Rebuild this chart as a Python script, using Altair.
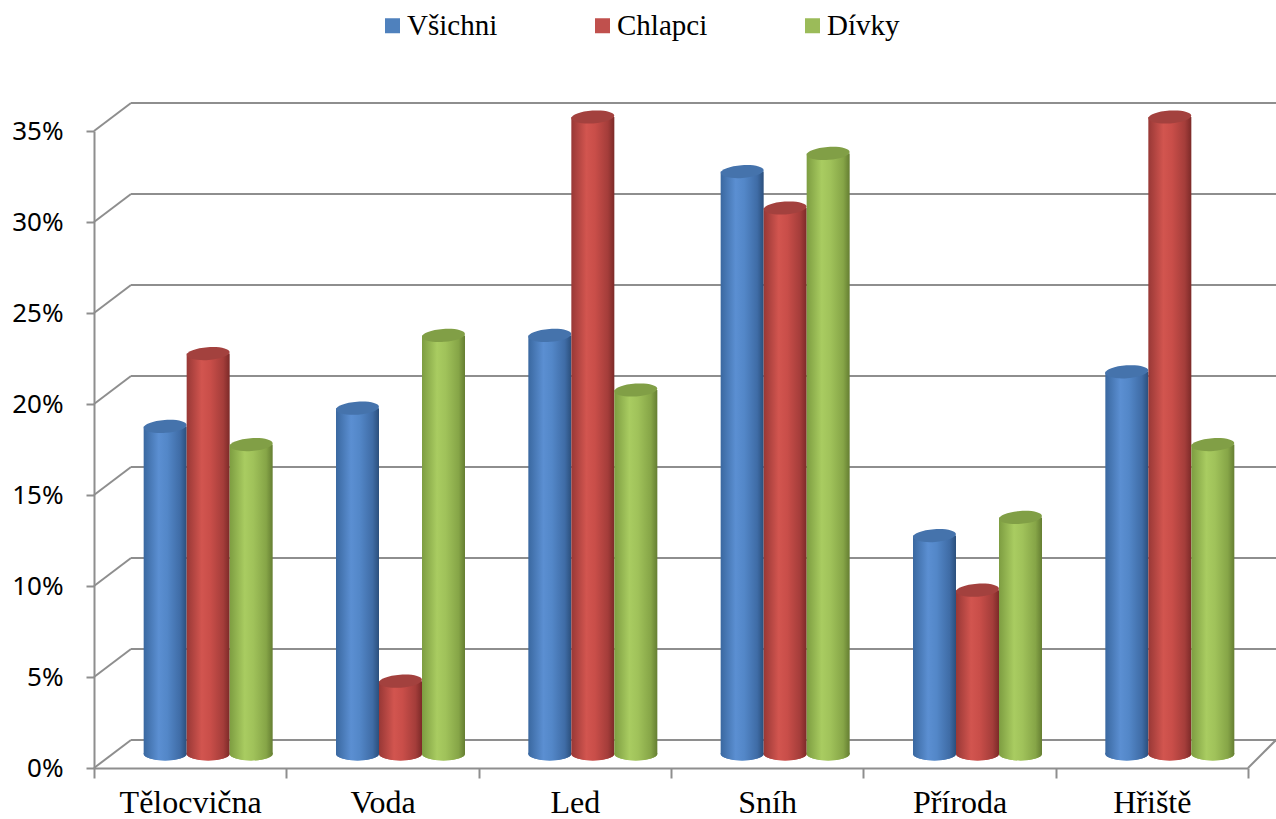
import altair as alt
import pandas as pd

categories = ["Tělocvična", "Voda", "Led", "Sníh", "Příroda", "Hřiště"]
series = ["Všichni", "Chlapci", "Dívky"]
vsichni = [0.18, 0.19, 0.23, 0.32, 0.12, 0.21]
chlapci = [0.22, 0.04, 0.35, 0.30, 0.09, 0.35]
divky = [0.17, 0.23, 0.20, 0.33, 0.13, 0.17]
y_ticks = [0, 0.05, 0.10, 0.15, 0.20, 0.25, 0.30, 0.35]

legend_colors = ["#4f81bd", "#c0504d", "#9bbb59"]
top_colors = ["#4573ac", "#a3413e", "#819f46"]
grad_stops = [
    ["#3a68a0", "#5b8fd2", "#5387c8", "#3f6ca6", "#2b4f7c"],
    ["#983836", "#d2554f", "#c94e49", "#a43d3a", "#7c2a28"],
    ["#7d9d41", "#a9cc61", "#a0c25a", "#86a547", "#657e32"],
]
stop_offsets = [0, 0.35, 0.55, 0.85, 1]

W, H = 1154, 637
DX, DY = 37, -28      # depth of the back wall
BDX, BDY = 18, -14    # bars sit at mid depth
BW = 43
GRAY = "#8e8e8e"
ELLIPSE = "M -1 0 A 1 0.3 0 1 1 1 0 A 1 0.3 0 1 1 -1 0 Z"

yscale = alt.Scale(domain=[0, 0.35], nice=False, zero=True)
xscale = alt.Scale(domain=categories, paddingInner=0, paddingOuter=0)

yaxis = alt.Axis(values=y_ticks, format=".0%", title=None, grid=False,
                 labelFont="Noto Sans", labelFontSize=26, labelColor="black",
                 domainColor=GRAY, domainWidth=2, tickColor=GRAY, tickWidth=2,
                 tickSize=8, labelPadding=23)
xaxis = alt.Axis(title=None, grid=False, labelAngle=0,
                 labelFont="Liberation Serif", labelFontSize=32, labelColor="black",
                 domainColor=GRAY, domainWidth=2, tickColor=GRAY, tickWidth=2,
                 tickSize=10, tickBand="extent", labelPadding=9)

X = alt.X("category:N", scale=xscale, axis=xaxis, sort=categories)
legend = alt.Legend(title=None, orient="none", legendX=284, legendY=-120,
                    direction="horizontal", labelFont="Liberation Serif",
                    labelFontSize=29, labelColor="black",
                    symbolType="square", symbolSize=225,
                    symbolStrokeWidth=0, labelOffset=0, columnPadding=90)
COLOR = alt.Color("series:N", scale=alt.Scale(domain=series, range=legend_colors),
                  legend=legend, sort=series)

ticks_df = pd.DataFrame({"t": y_ticks})
floor_df = pd.DataFrame({"t": [0]})

back_lines = alt.Chart(ticks_df).mark_rule(color=GRAY, strokeWidth=2, yOffset=DY).encode(
    y=alt.Y("t:Q", scale=yscale, axis=yaxis),
    x=alt.value(DX), x2=alt.value(W + 28))

diagonals = alt.Chart(ticks_df).mark_rule(color=GRAY, strokeWidth=2, y2Offset=DY).encode(
    y=alt.Y("t:Q", scale=yscale, axis=yaxis), y2=alt.Y2("t:Q"),
    x=alt.value(0), x2=alt.value(DX))

floor_right = alt.Chart(floor_df).mark_rule(color=GRAY, strokeWidth=2, y2Offset=DY).encode(
    y=alt.Y("t:Q", scale=yscale, axis=yaxis), y2=alt.Y2("t:Q"),
    x=alt.value(W), x2=alt.value(W + 28))

layers = [back_lines, diagonals, floor_right]

values_list = [vsichni, chlapci, divky]
for j, name in enumerate(series):
    df = pd.DataFrame({"category": categories, "value": values_list[j], "series": name})
    off = BDX + (j - 1) * BW
    grad = alt.LinearGradient(
        gradient="linear", x1=0, x2=1, y1=0, y2=0,
        stops=[alt.GradientStop(color=c, offset=o) for c, o in zip(grad_stops[j], stop_offsets)])
    legend_pts = alt.Chart(df).mark_point(
        shape=ELLIPSE, size=BW * BW, filled=True, opacity=1, strokeWidth=0,
        xOffset=off, yOffset=BDY).encode(
        x=X, y=alt.datum(0, scale=yscale, axis=yaxis), color=COLOR)
    bottom = alt.Chart(df).mark_point(
        shape=ELLIPSE, size=BW * BW, filled=True, opacity=1, strokeWidth=0,
        fill=grad, xOffset=off, yOffset=BDY).encode(
        x=X, y=alt.datum(0, scale=yscale, axis=yaxis))
    bars = alt.Chart(df).mark_bar(
        size=BW, xOffset=off, x2Offset=off, yOffset=BDY, y2Offset=BDY, fill=grad).encode(
        x=X, y=alt.Y("value:Q", scale=yscale, axis=yaxis))
    top = alt.Chart(df).mark_point(
        shape=ELLIPSE, size=BW * BW, filled=True, opacity=1, strokeWidth=0,
        fill=top_colors[j], xOffset=off, yOffset=BDY, angle=356).encode(
        x=X, y=alt.Y("value:Q", scale=yscale, axis=yaxis))
    layers += [legend_pts, bottom, bars, top]

chart = alt.layer(*layers).properties(
    width=W, height=H,
    padding={"left": 94, "top": 131, "right": 28, "bottom": 51},
    autosize=alt.AutoSizeParams(type="none"),
    background="white",
).configure_view(stroke=None)

chart.save("out.html", embed_options={"renderer": "svg", "actions": False})
